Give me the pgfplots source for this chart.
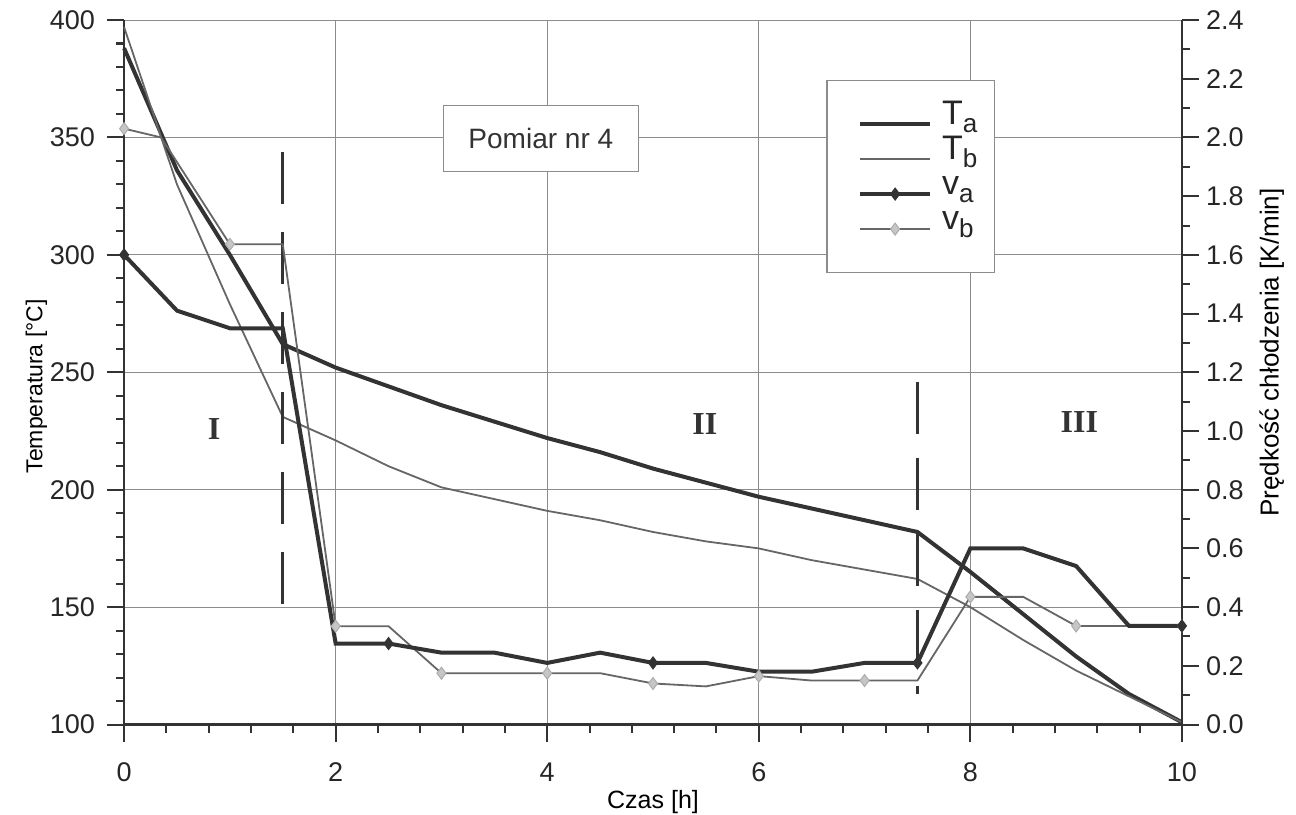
\documentclass[border=0pt]{standalone}
\usepackage{fontspec}
\setmainfont{Liberation Sans}
\newfontfamily\romanfont{Liberation Serif}
\usepackage{pgfplots}
\pgfplotsset{compat=1.18}
\definecolor{lineA}{gray}{0.2}
\definecolor{lineB}{gray}{0.4}
\definecolor{gridc}{gray}{0.55}
\definecolor{axc}{gray}{0.2}
\newcommand{\sub}[1]{\raisebox{-0.45ex}{\fontsize{13}{13}\selectfont #1}}
\pgfplotsset{
  base/.style={
    width=528.5pt, height=352pt, scale only axis,
    at={(0,0)}, anchor=south west,
    xmin=0, xmax=10, clip=false,
    tick align=outside,
    /pgf/number format/assume math mode=true,
    tick label style={font=\fontsize{13.5}{15}\selectfont, color=black!85},
    major tick length=8.5pt, minor tick length=4pt,
    every tick/.style={axc, line width=1pt},
    axis line style={axc, line width=1.4pt},
  },
  longlegend/.style={legend image code/.code={%
    \path (0pt,0pt);
    \draw[mark repeat=2,mark phase=2,##1] plot coordinates {(9.5pt,0pt) (27pt,0pt) (44.5pt,0pt)};}},
}
\begin{document}
\begin{tikzpicture}
\begin{axis}[base,
  ymin=100, ymax=400,
  axis x line*=bottom, axis y line*=left,
  xtick={0,2,4,6,8,10}, minor x tick num=4,
  ytick={100,150,200,250,300,350,400}, minor y tick num=4,
  xticklabel style={yshift=-7pt},
  yticklabel style={xshift=-2.5pt},
  grid=major, major grid style={gridc, line width=0.5pt},
  xlabel={Czas [h]}, ylabel={Temperatura [°C]},
  xlabel style={font=\fontsize{12.5}{13}\selectfont, at={(axis description cs:0.5,-0.11)}, anchor=center},
  ylabel style={font=\fontsize{11.5}{13}\selectfont, at={(axis description cs:-0.083,0.48)}, anchor=center},
]
% T_a
\addplot[lineA, line width=2pt] coordinates {
(0,388) (0.5,336) (1,300) (1.5,262) (2,252) (2.5,244) (3,236) (3.5,229) (4,222) (4.5,216)
(5,209) (5.5,203) (6,197) (6.5,192) (7,187) (7.5,182) (8,165) (8.5,147) (9,129) (9.5,113) (10,101)};
% T_b
\addplot[lineB, line width=0.9pt] coordinates {
(0,397) (0.5,330) (1,279) (1.5,231) (2,221) (2.5,210) (3,201) (3.5,196) (4,191) (4.5,187)
(5,182) (5.5,178) (6,175) (6.5,170) (7,166) (7.5,162) (8,150) (8.5,136) (9,123) (9.5,112) (10,101)};
% phase boundaries
\addplot[axc, line width=1.3pt, dash pattern=on 26pt off 14pt] coordinates {(1.5,344) (1.5,147)};
\addplot[axc, line width=1.3pt, dash pattern=on 26pt off 12pt] coordinates {(7.5,246) (7.5,113)};
\node[font=\fontsize{16}{16}\selectfont\romanfont\bfseries, text=black!80] at (axis cs:0.85,226) {I};
\node[font=\fontsize{16}{16}\selectfont\romanfont\bfseries, text=black!80] at (axis cs:5.49,228) {II};
\node[font=\fontsize{16}{16}\selectfont\romanfont\bfseries, text=black!80] at (axis cs:9.03,229) {III};
\node[draw=gridc, line width=0.6pt, fill=white, minimum width=97.5pt, minimum height=33pt,
  font=\fontsize{14}{16}\selectfont, text=black!80] at (axis cs:3.94,349.6) {Pomiar nr 4};
\end{axis}
\begin{axis}[base,
  ymin=0, ymax=2.4,
  axis x line=none, axis y line*=right,
  ytick={0,0.2,0.4,0.6,0.8,1.0,1.2,1.4,1.6,1.8,2.0,2.2,2.4}, minor y tick num=1,
  yticklabel style={xshift=0pt, /pgf/number format/.cd, fixed, fixed zerofill, precision=1},
  ylabel={Prędkość chłodzenia [K/min]},
  ylabel style={font=\fontsize{13}{13}\selectfont, at={(axis description cs:1.085,0.528)}, anchor=center},
  longlegend,
  legend style={at={(0.664,0.915)}, anchor=north west, draw=gridc, line width=0.6pt, fill=white,
    inner xsep=6pt, inner ysep=13pt, row sep=0pt, column sep=5pt,
    font=\fontsize{17}{17}\selectfont,
    nodes={inner sep=0pt, text height=9pt, text depth=8.5pt, text width=20pt, align=left, text=black!85}},
  legend cell align=left,
]
\addlegendimage{lineA, line width=2pt}
\addlegendentry{T\sub{a}}
\addlegendimage{lineB, line width=0.9pt}
\addlegendentry{T\sub{b}}
\addlegendimage{lineA, line width=2pt, mark=diamond*, mark size=3pt, mark options={fill=lineA, draw=lineA, line width=0.5pt}}
\addlegendentry{v\sub{a}}
\addlegendimage{lineB, line width=0.9pt, mark=diamond*, mark size=3pt, mark options={fill=gray!45, draw=gray!65, line width=0.5pt}}
\addlegendentry{v\sub{b}}
% v_b
\addplot[lineB, line width=0.9pt, mark=diamond*, mark size=3pt, mark repeat=2,
  mark options={fill=gray!45, draw=gray!65, line width=0.5pt}, forget plot] coordinates {
(0,2.03) (0.35,2.0) (1,1.636) (1.5,1.636) (2,0.335) (2.5,0.335) (3,0.175) (3.5,0.175) (4,0.175) (4.5,0.175)
(5,0.14) (5.5,0.13) (6,0.165) (6.5,0.15) (7,0.15) (7.5,0.15) (8,0.435) (8.5,0.435) (9,0.336) (9.5,0.336) (10,0.336)};
% v_a
\addplot[lineA, line width=2pt, mark=diamond*, mark size=3pt, mark repeat=5,
  mark options={fill=lineA, draw=lineA, line width=0.5pt}, forget plot] coordinates {
(0,1.60) (0.5,1.41) (1,1.35) (1.5,1.35) (2,0.276) (2.5,0.276) (3,0.245) (3.5,0.245) (4,0.21) (4.5,0.245)
(5,0.21) (5.5,0.21) (6,0.18) (6.5,0.18) (7,0.21) (7.5,0.21) (8,0.60) (8.5,0.60) (9,0.54) (9.5,0.336) (10,0.336)};
\end{axis}
\pgfresetboundingbox
\path[use as bounding box] (-62pt,-45pt) rectangle (585.5pt,362pt);
\end{tikzpicture}
\end{document}
